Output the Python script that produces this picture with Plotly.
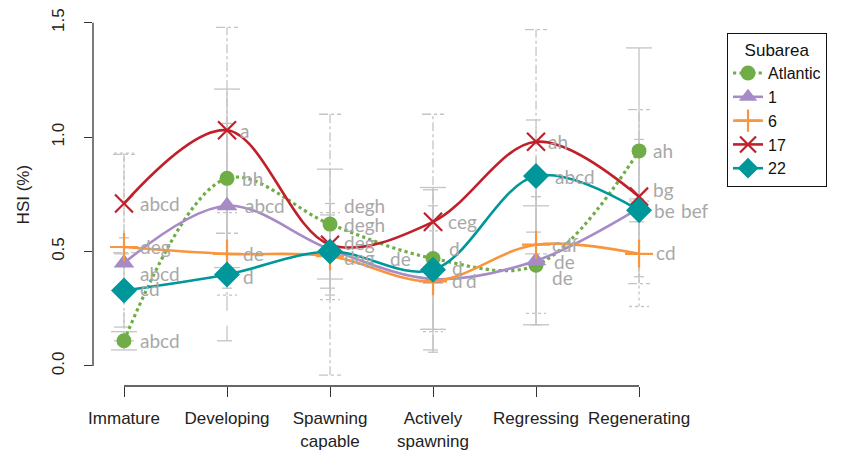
import plotly.graph_objects as go

# Gonad development stages (x positions 1..6)
stages = ["Immature", "Developing", "Spawning<br>capable", "Actively<br>spawning",
          "Regressing", "Regenerating"]
stage_pos = [1, 2, 3, 4, 5, 6]

# Mean HSI (%) per subarea
hsi_atlantic = [0.11, 0.82, 0.62, 0.47, 0.44, 0.94]
hsi_1 = [0.45, 0.70, 0.51, 0.38, 0.46, 0.69]
hsi_6 = [0.52, 0.49, 0.48, 0.37, 0.53, 0.49]
hsi_17 = [0.71, 1.03, 0.53, 0.63, 0.98, 0.74]
hsi_22 = [0.33, 0.40, 0.50, 0.42, 0.83, 0.68]

# Standard deviations
sd_atlantic = [0.04, 0.39, 0.24, 0.31, 0.26, 0.45]
sd_1 = [0.11, 0.36, 0.20, 0.32, 0.28, 0.30]
sd_6 = [0.41, 0.18, 0.19, 0.22, 0.30, 0.23]
sd_17 = [0.215, 0.45, 0.57, 0.47, 0.49, 0.38]
sd_22 = [0.16, 0.29, 0.16, 0.35, 0.245, 0.05]

# Significance letters and the heights they are written at
lab_atlantic = ["abcd", "bh", "degh", "d", "de", "ah"]
laby_atlantic = [0.11, 0.82, 0.62, 0.515, 0.385, 0.94]
lab_1 = ["abcd", "abcd", "degh", "d", "de", "be"]
laby_1 = [0.405, 0.70, 0.70, 0.375, 0.455, 0.68]
lab_6 = ["deg", "de", "deg", "d", "cdf", "cd"]
laby_6 = [0.52, 0.49, 0.475, 0.375, 0.53, 0.495]
lab_17 = ["abcd", "a", "deg", "ceg", "ah", "bg"]
laby_17 = [0.71, 1.03, 0.54, 0.63, 0.98, 0.77]
lab_22 = ["cd", "d", "de", "d", "abcd", "bef"]
laby_22 = [0.34, 0.39, 0.47, 0.43, 0.83, 0.68]

series_names = ["Atlantic", "1", "6", "17", "22"]
series_means = [hsi_atlantic, hsi_1, hsi_6, hsi_17, hsi_22]
series_sd = [sd_atlantic, sd_1, sd_6, sd_17, sd_22]
series_labels = [lab_atlantic, lab_1, lab_6, lab_17, lab_22]
series_label_y = [laby_atlantic, laby_1, laby_6, laby_17, laby_22]

colors = ["#70AD47", "#A68BC6", "#F7963F", "#C0202B", "#00979A"]
line_dash = ["dot", "solid", "solid", "solid", "solid"]
symbols = ["circle", "triangle-up", "cross-thin", "x-thin", "diamond"]
msize = [15, 18, 20, 18, 20]
# error bar look per subarea: (dash, cap half-width in px)
err_style = [("solid", 13), ("solid", 5), ("dot", 10), ("dashdot", 11), ("longdash", 10)]
# extra horizontal offsets (px) of some letters so they do not collide
lab_xshift = [
    [16, 15, 14, 16, 16, 14],
    [16, 18, 14, 19, 18, 15],
    [16, 16, 14, 33, 16, 17],
    [16, 13, 14, 15, 12, 14],
    [16, 16, 60, 19, 19, 42],
]

PX_PER_X = 103.0
fig = go.Figure()

# error bars (drawn first so the curves sit on top)
for name, m, sd, (dash, cap) in zip(series_names, series_means, series_sd, err_style):
    xs, ys = [], []
    h = cap / PX_PER_X
    for xp, mu, s in zip(stage_pos, m, sd):
        lo, hi = mu - s, mu + s
        xs += [xp, xp, None, xp - h, xp + h, None, xp - h, xp + h, None]
        ys += [lo, hi, None, hi, hi, None, lo, lo, None]
    fig.add_trace(go.Scatter(x=xs, y=ys, mode="lines", showlegend=False,
                             hoverinfo="skip",
                             line=dict(color="#C4C4C4", width=1.3, dash=dash)))

# smoothed mean curves with markers
for i, name in enumerate(series_names):
    mk = dict(symbol=symbols[i], size=msize[i], color=colors[i])
    if symbols[i].endswith("-thin"):
        mk["line"] = dict(color=colors[i], width=2.2)
    fig.add_trace(go.Scatter(
        x=stage_pos, y=series_means[i], name=name, mode="lines+markers",
        line=dict(color=colors[i], width=2.6 if line_dash[i] == "solid" else 3.2,
                  dash=line_dash[i], shape="spline", smoothing=1.0),
        marker=mk))

# significance letters
for i in range(len(series_names)):
    for j, xp in enumerate(stage_pos):
        fig.add_annotation(x=xp, y=series_label_y[i][j], text=series_labels[i][j],
                           xanchor="left", yanchor="middle", xshift=lab_xshift[i][j] - 2,
                           showarrow=False,
                           font=dict(family="Lato, Carlito, sans-serif", size=19,
                                     color="#A8A8A8"))

# y-axis title
fig.add_annotation(x=-0.1116, xref="paper", y=0.75, yref="y", text="HSI (%)",
                   textangle=-90, showarrow=False, xanchor="center", yanchor="middle",
                   font=dict(family="Liberation Sans, Arial, sans-serif", size=17,
                             color="#222222"))

# axis lines spanning only the tick range
fig.add_shape(type="line", xref="paper", yref="y", x0=0, x1=0, y0=0, y1=1.5,
              line=dict(color="#333333", width=1.3))
fig.add_shape(type="line", xref="x", yref="paper", x0=1, x1=6, y0=0, y1=0,
              line=dict(color="#333333", width=1.3))

axis_font = dict(family="Liberation Sans, Arial, sans-serif", size=17, color="#222222")
fig.update_layout(
    width=841, height=450,
    margin=dict(l=93, r=121, t=9, b=64.3, autoexpand=False),
    paper_bgcolor="white", plot_bgcolor="white",
    xaxis=dict(range=[0.699, 6.786], tickvals=stage_pos, ticktext=stages,
               showgrid=False, zeroline=False, showline=False,
               ticks="outside", ticklen=10, tickwidth=1.3, tickcolor="#333333",
               tickfont=axis_font, ticklabelstandoff=7),
    yaxis=dict(range=[-0.0875, 1.56], tickvals=[0, 0.5, 1.0, 1.5],
               ticktext=["0.0", "0.5", "1.0", "1.5"], tickangle=-90,
               showgrid=False, zeroline=False, showline=False,
               ticks="outside", ticklen=8, tickwidth=1.3, tickcolor="#333333",
               tickfont=axis_font, ticklabelstandoff=13),
    legend=dict(x=1.0112, y=0.9363, xanchor="left", yanchor="top",
                bordercolor="#111111", borderwidth=1, bgcolor="white",
                font=dict(family="Liberation Sans, Arial, sans-serif", size=16,
                          color="#111111"),
                title=dict(text="Subarea", side="top center",
                           font=dict(family="Liberation Sans, Arial, sans-serif",
                                     size=17, color="#111111")),
                tracegroupgap=0),
    showlegend=True,
)

fig.write_html("out.html")
